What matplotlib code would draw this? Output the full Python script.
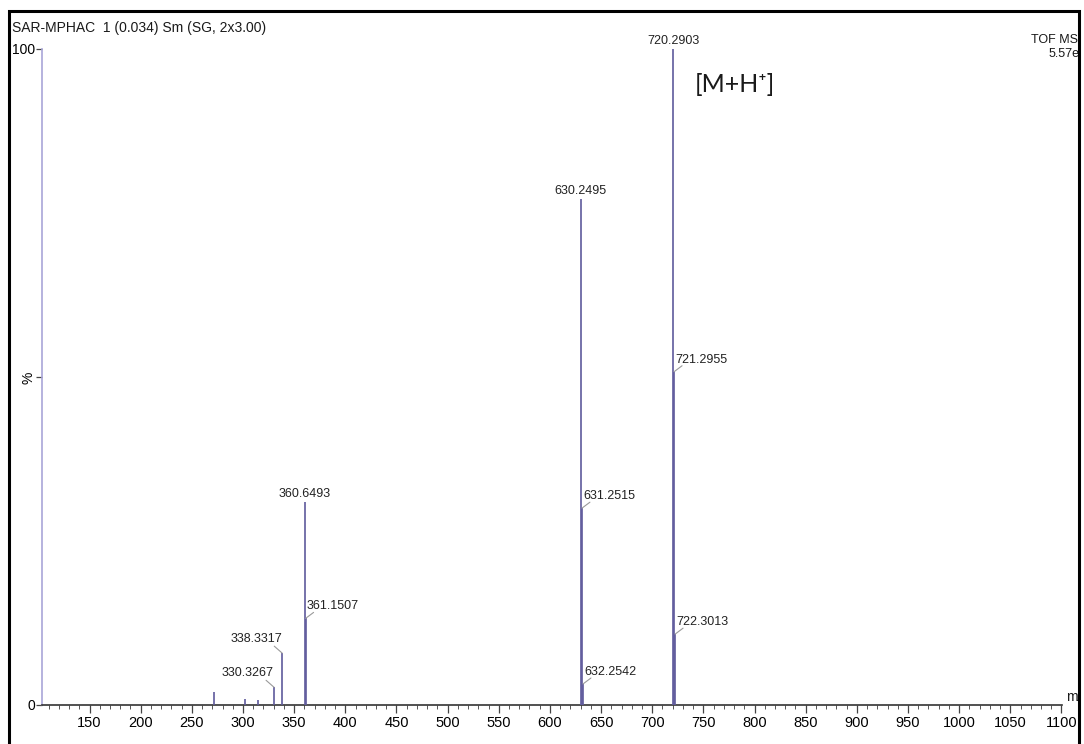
import matplotlib.pyplot as plt
from matplotlib.patches import Rectangle
from matplotlib.ticker import MultipleLocator

plt.rcParams['font.family'] = ['Liberation Sans', 'DejaVu Sans']

# centroided spectrum (m/z, relative intensity %)
peak_mz = [272.0, 301.5, 314.5, 330.3267, 338.3317, 360.6493, 361.1507,
           630.2495, 631.2515, 632.2542, 720.2903, 721.2955, 722.3013]
peak_int = [2.0, 0.9, 0.8, 2.7, 7.9, 30.9, 13.2,
            77.1, 30.0, 3.2, 100.0, 50.8, 10.8]

# labelled peaks and where the label sits relative to the stick
label_mz = [330.3267, 338.3317, 360.6493, 361.1507, 630.2495,
            631.2515, 632.2542, 720.2903, 721.2955, 722.3013]
label_side = ['left', 'left', 'top', 'right', 'top',
              'right', 'right', 'top', 'right', 'right']

x_ticks = list(range(150, 1101, 50))

W, H = 1084, 744
fig = plt.figure(figsize=(W / 100, H / 100), dpi=100)
ax = fig.add_axes([42 / W, 39 / H, 1020 / W, 656 / H])
ax.set_xlim(103.5, 1100.5)
ax.set_ylim(0, 100)

stick_col = '#5f5a9c'
ax.vlines(peak_mz, 0, peak_int, color=stick_col, lw=1.2, zorder=3)

lead_col = '#9a9a9a'
lab_size = 9
for mz, side in zip(label_mz, label_side):
    inten = peak_int[peak_mz.index(mz)]
    txt = f'{mz:.4f}'
    if side == 'top':
        ax.annotate(txt, (mz, inten), xytext=(0, 8), textcoords='offset pixels',
                    ha='center', va='center', fontsize=lab_size, color='#222222',
                    annotation_clip=False)
    elif side == 'right':
        ax.annotate('', (mz, inten), xytext=(8, 6), textcoords='offset pixels',
                    arrowprops=dict(arrowstyle='-', color=lead_col, lw=0.8,
                                    shrinkA=0, shrinkB=0))
        ax.annotate(txt, (mz, inten), xytext=(1, 12), textcoords='offset pixels',
                    ha='left', va='center', fontsize=lab_size, color='#222222')
    else:
        ax.annotate('', (mz, inten), xytext=(-8, 7), textcoords='offset pixels',
                    arrowprops=dict(arrowstyle='-', color=lead_col, lw=0.8,
                                    shrinkA=0, shrinkB=0))
        ax.annotate(txt, (mz, inten), xytext=(0, 14), textcoords='offset pixels',
                    ha='right', va='center', fontsize=lab_size, color='#222222')

# axes styling in the MassLynx manner
for s in ('top', 'right'):
    ax.spines[s].set_visible(False)
ax.spines['bottom'].set_color('#333333')
ax.spines['bottom'].set_linewidth(1.2)
ax.spines['left'].set_color('#a9a6d8')
ax.spines['left'].set_linewidth(1.2)

ax.set_xticks(x_ticks)
ax.xaxis.set_minor_locator(MultipleLocator(10))
ax.tick_params(axis='x', which='major', direction='out', length=6, width=0.9,
               color='#444444', labelsize=10.5, pad=2)
ax.tick_params(axis='x', which='minor', direction='out', length=3, width=0.7,
               color='#555555')
ax.set_yticks([0, 50, 100])
ax.set_yticklabels(['0', '%', '100'])
ax.tick_params(axis='y', direction='out', length=4, width=0.9, color='#444444',
               labelsize=10, pad=1)
ax.get_yticklabels()[1].set_rotation(90)

# header texts
fig.text(12 / W, 1 - 28 / H, 'SAR-MPHAC  1 (0.034) Sm (SG, 2x3.00)',
         fontsize=10, va='center', ha='left', color='#1a1a1a')
fig.text(1031 / W, 1 - 40 / H, 'TOF MS ES+', fontsize=9, va='center',
         ha='left', color='#1a1a1a')
fig.text(1049 / W, 1 - 54 / H, '5.57e3', fontsize=9, va='center',
         ha='left', color='#1a1a1a')
fig.text(1066 / W, 1 - 697 / H, 'm/z', fontsize=10, va='center', ha='left',
         color='#1a1a1a')
fig.text(695 / W, 1 - 84 / H, '[M+H\u207a]', fontsize=18, va='center',
         ha='left', color='#1a1a1a', family=['Lato', 'DejaVu Sans'])

# page frame, with whatever lies outside it blanked
fig.add_artist(Rectangle((1080 / W, 0), 4 / W, 1, transform=fig.transFigure,
                         fc='white', ec='none', zorder=10))
fig.add_artist(Rectangle((9 / W, -0.05), 1070 / W, 1.05 - 11 / H,
                         transform=fig.transFigure, fill=False, ec='black',
                         lw=2.2, zorder=11))

fig.savefig('out.png', dpi=100, facecolor='white')
